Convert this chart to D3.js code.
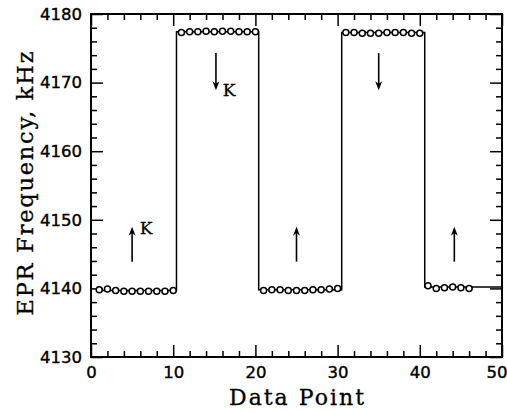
<!DOCTYPE html>
<html>
<head>
<meta charset="utf-8">
<script src="https://cdn.jsdelivr.net/npm/d3@7/dist/d3.min.js"></script>
<style>
  html, body { margin: 0; padding: 0; background: #fff; }
  svg { display: block; }
</style>
</head>
<body>
<svg id="chart" width="507" height="411"></svg>
<script>
// ---- data ----
const pointX = [1,2,3,4,5,6,7,8,9,10, 11,12,13,14,15,16,17,18,19,20, 21,22,23,24,25,26,27,28,29,30, 31,32,33,34,35,36,37,38,39,40, 41,42,43,44,45,46];
const pointY = [
  4139.8, 4139.9, 4139.7, 4139.6, 4139.6, 4139.6, 4139.6, 4139.6, 4139.6, 4139.7,
  4177.3, 4177.4, 4177.4, 4177.5, 4177.4, 4177.5, 4177.5, 4177.4, 4177.4, 4177.4,
  4139.7, 4139.8, 4139.8, 4139.7, 4139.7, 4139.7, 4139.8, 4139.8, 4139.9, 4140.0,
  4177.3, 4177.3, 4177.2, 4177.2, 4177.2, 4177.3, 4177.3, 4177.3, 4177.2, 4177.2,
  4140.4, 4140.0, 4140.1, 4140.2, 4140.1, 4140.0
];
// step-function line: breakpoints and plateau levels
const stepEdges = [1, 10.4, 20.4, 30.5, 40.6, 50];
const stepLevels = [4139.7, 4177.4, 4139.8, 4177.3, 4140.2];
// arrows
const arrowX = [5.0, 15.2, 25.0, 35.0, 44.2];
const arrowFrom = [4143.9, 4174.3, 4143.9, 4174.3, 4143.9];
const arrowTo = [4149.0, 4168.9, 4149.0, 4168.9, 4149.0];
const kLabelX = [6.7, 16.8];
const kLabelY = [4148.8, 4169.0];
// axes
const xMajor = [0, 10, 20, 30, 40, 50];
const yMajor = [4130, 4140, 4150, 4160, 4170, 4180];
const xMinor = d3.range(0, 51, 2).filter(v => v % 10 !== 0);
const yMinor = d3.range(4130, 4181, 2).filter(v => v % 10 !== 0);

// ---- layout ----
const L = 91, R = 502, T = 14, B = 357;
const svg = d3.select("#chart");
const x = d3.scaleLinear().domain([0, 50]).range([L, R]);
const y = d3.scaleLinear().domain([4130, 4180]).range([B, T]);

const tickFont = "'DejaVu Sans', sans-serif";
const labelFont = "'DejaVu Serif', serif";

function styleAxis(g, withText) {
  g.select(".domain").remove();
  g.selectAll(".tick line").attr("stroke", "#000").attr("stroke-width", 1.5);
  if (withText) {
    g.selectAll(".tick text")
      .attr("fill", "#000")
      .attr("stroke", "#000").attr("stroke-width", 0.4)
      .style("font-family", tickFont).style("font-size", "16.5px");
  } else {
    g.selectAll(".tick text").remove();
  }
}

// major axes
svg.append("g").attr("transform", `translate(0,${B})`)
  .call(d3.axisBottom(x).tickValues(xMajor).tickSize(-12).tickPadding(9).tickFormat(d3.format("d")))
  .call(g => styleAxis(g, true))
  .call(g => g.selectAll(".tick text").filter(d => d === 50).attr("text-anchor", "end").attr("x", 5));
svg.append("g").attr("transform", `translate(0,${T})`)
  .call(d3.axisTop(x).tickValues(xMajor).tickSize(-12).tickFormat(""))
  .call(g => styleAxis(g, false));
svg.append("g").attr("transform", `translate(${L},0)`)
  .call(d3.axisLeft(y).tickValues(yMajor).tickSize(-12).tickPadding(9).tickFormat(d3.format("d")))
  .call(g => styleAxis(g, true));
svg.append("g").attr("transform", `translate(${R},0)`)
  .call(d3.axisRight(y).tickValues(yMajor).tickSize(-12).tickFormat(""))
  .call(g => styleAxis(g, false));
// minor ticks
svg.append("g").attr("transform", `translate(0,${B})`)
  .call(d3.axisBottom(x).tickValues(xMinor).tickSize(-6).tickFormat(""))
  .call(g => styleAxis(g, false));
svg.append("g").attr("transform", `translate(0,${T})`)
  .call(d3.axisTop(x).tickValues(xMinor).tickSize(-6).tickFormat(""))
  .call(g => styleAxis(g, false));
svg.append("g").attr("transform", `translate(${L},0)`)
  .call(d3.axisLeft(y).tickValues(yMinor).tickSize(-6).tickFormat(""))
  .call(g => styleAxis(g, false));
svg.append("g").attr("transform", `translate(${R},0)`)
  .call(d3.axisRight(y).tickValues(yMinor).tickSize(-6).tickFormat(""))
  .call(g => styleAxis(g, false));

// frame
svg.append("rect").attr("x", L).attr("y", T).attr("width", R - L).attr("height", B - T)
  .attr("fill", "none").attr("stroke", "#000").attr("stroke-width", 2);

// step line
const stepPts = [];
stepLevels.forEach((lv, i) => {
  stepPts.push([stepEdges[i], lv]);
  stepPts.push([stepEdges[i + 1], lv]);
});
svg.append("path")
  .datum(stepPts)
  .attr("fill", "none").attr("stroke", "#000").attr("stroke-width", 1.5)
  .attr("d", d3.line().x(d => x(d[0])).y(d => y(d[1])));

// points
svg.append("g").selectAll("circle")
  .data(pointX.map((v, i) => [v, pointY[i]]))
  .join("circle")
  .attr("cx", d => x(d[0])).attr("cy", d => y(d[1])).attr("r", 3)
  .attr("fill", "#fff").attr("stroke", "#000").attr("stroke-width", 1.5);

// arrows
const ag = svg.append("g");
arrowX.forEach((ax, i) => {
  const x0 = x(ax), y0 = y(arrowFrom[i]), y1 = y(arrowTo[i]);
  const dir = y1 < y0 ? -1 : 1; // -1 = up
  const headLen = 9, headW = 3.5;
  ag.append("line").attr("x1", x0).attr("x2", x0).attr("y1", y0).attr("y2", y1 - dir * headLen * 0.6)
    .attr("stroke", "#000").attr("stroke-width", 1.6);
  ag.append("path")
    .attr("d", `M${x0},${y1} L${x0 - headW},${y1 - dir * headLen} L${x0},${y1 - dir * headLen * 0.7} L${x0 + headW},${y1 - dir * headLen} Z`)
    .attr("fill", "#000");
});
kLabelX.forEach((kx, i) => {
  svg.append("text").attr("x", x(kx)).attr("y", y(kLabelY[i]))
    .attr("text-anchor", "middle").attr("dy", "0.36em")
    .attr("stroke", "#000").attr("stroke-width", 0.3)
    .style("font-family", labelFont).style("font-size", "17px")
    .text("K");
});

// axis titles
svg.append("text")
  .attr("x", (L + R) / 2).attr("y", 405)
  .attr("text-anchor", "middle")
  .attr("textLength", 135).attr("lengthAdjust", "spacing")
  .attr("stroke", "#000").attr("stroke-width", 0.3)
  .style("font-family", labelFont).style("font-size", "22px")
  .text("Data Point");
svg.append("text")
  .attr("transform", `translate(33,${(50 + 317) / 2}) rotate(-90)`)
  .attr("text-anchor", "middle")
  .attr("textLength", 264).attr("lengthAdjust", "spacing")
  .attr("stroke", "#000").attr("stroke-width", 0.3)
  .style("font-family", labelFont).style("font-size", "22.5px")
  .text("EPR Frequency, kHz");
</script>
</body>
</html>
